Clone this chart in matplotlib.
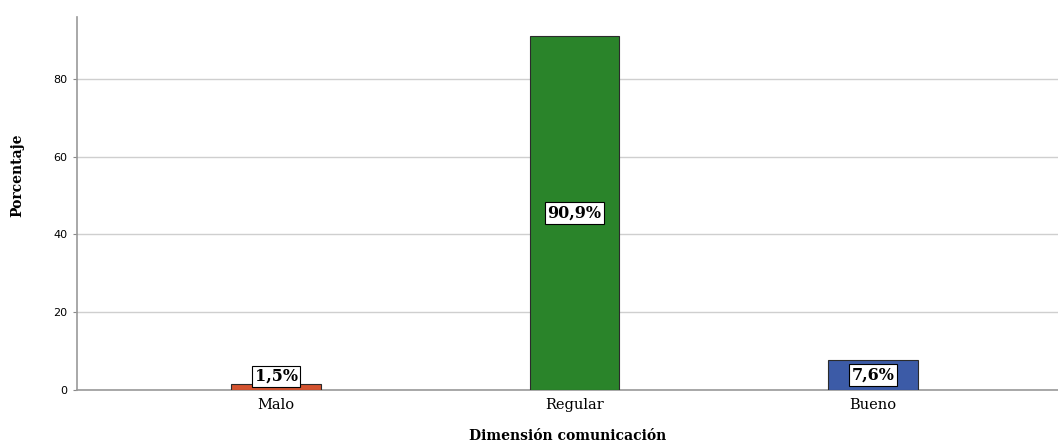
import matplotlib.pyplot as plt

categorias = ['Malo', 'Regular', 'Bueno']
porcentajes = [1.5, 90.9, 7.6]
etiquetas = ['1,5%', '90,9%', '7,6%']
colores = ['#d4532f', '#2a842a', '#3c5ba7']
yticks = [0, 20, 40, 60, 80]

fig = plt.figure(figsize=(10.58, 4.44), dpi=100)
ax = fig.add_axes([0.0728, 0.1216, 0.9272, 0.8401])

x = list(range(len(categorias)))
ax.bar(x, porcentajes, width=0.3, color=colores, edgecolor='#2b2b2b',
       linewidth=0.8, zorder=3)

# etiquetas de porcentaje en caja blanca, centradas en la barra
for xi, v, txt in zip(x, porcentajes, etiquetas):
    ax.text(xi, max(v / 2, 3.5), txt, ha='center', va='center',
            family='DejaVu Serif', fontweight='bold', fontsize=11.5,
            zorder=4,
            bbox=dict(boxstyle='square,pad=0.15', fc='white', ec='black', lw=0.8))

ax.set_xlim(-0.667, 2.62)
ax.set_ylim(0, 95.9)
ax.set_yticks(yticks)
ax.set_xticks(x)
ax.set_xticklabels(categorias, family='DejaVu Serif', fontsize=10.5)
ax.tick_params(axis='y', labelsize=8, length=3, color='#888888', pad=4)
ax.tick_params(axis='x', length=0, pad=6)
ax.yaxis.grid(True, color='#cfcfcf', linewidth=1, zorder=0)

for s in ['top', 'right']:
    ax.spines[s].set_visible(False)
for s in ['left', 'bottom']:
    ax.spines[s].set_color('#999999')
    ax.spines[s].set_linewidth(1.2)

ax.set_ylabel('Porcentaje', family='DejaVu Serif', fontweight='bold',
              fontsize=10)
ax.yaxis.set_label_coords(-0.054, 0.575)
ax.set_xlabel('Dimensión comunicación', family='DejaVu Serif',
              fontweight='bold', fontsize=10, labelpad=12)

fig.savefig('out.png', dpi=100)
